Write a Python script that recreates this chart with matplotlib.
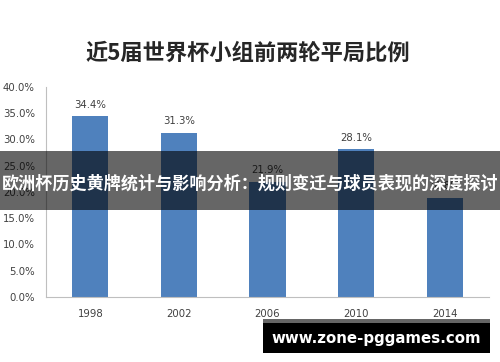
import matplotlib.pyplot as plt
from matplotlib.patches import Rectangle

plt.rcParams['font.family'] = ['Noto Sans CJK SC', 'DejaVu Sans']

years = ['1998', '2002', '2006', '2010', '2014']
draw_rate = [34.4, 31.3, 21.9, 28.1, 18.8]
yticks = [0, 5, 10, 15, 20, 25, 30, 35, 40]

fig = plt.figure(figsize=(5, 3.62), dpi=100)
ax = fig.add_axes([0.092, 0.1796, 0.886, 0.5801])

x = range(len(years))
ax.bar(x, draw_rate, width=0.41, color='#4F81BD', zorder=2)
for xi, v in zip(x, draw_rate):
    ax.text(xi, v + 1.3, f'{v:.1f}%', ha='center', va='bottom', fontsize=7.3,
            color='#404040', family='DejaVu Sans')

ax.set_xlim(-0.5, 4.5)
ax.set_ylim(0, 40)
ax.set_yticks(yticks)
ax.set_yticklabels([f'{t:.1f}%' for t in yticks], fontsize=7.3, color='#404040',
                   family='DejaVu Sans')
ax.set_xticks(list(x))
ax.set_xticklabels(years, fontsize=7.3, color='#404040', family='DejaVu Sans')
ax.tick_params(length=0)
ax.tick_params(axis='x', pad=9)
ax.tick_params(axis='y', pad=8)
for s in ['top', 'right']:
    ax.spines[s].set_visible(False)
for s in ['left', 'bottom']:
    ax.spines[s].set_color('#BFBFBF')

fig.text(0.496, 0.853, '近5届世界杯小组前两轮平局比例', ha='center', va='center',
         fontsize=16, fontweight='bold', color='#262626')

# overlay banner
fig.patches.append(Rectangle((0, 1 - 210 / 362), 1, 59 / 362, transform=fig.transFigure,
                             facecolor='black', alpha=0.6, zorder=5))
fig.text(0.5, 1 - 184 / 362, '欧洲杯历史黄牌统计与影响分析：规则变迁与球员表现的深度探讨',
         ha='center', va='center', fontsize=12.3, fontweight='bold', color='white', zorder=6)

# watermark
fig.patches.append(Rectangle((263 / 500, 1 - 353 / 362), 227 / 500, 34 / 362,
                             transform=fig.transFigure, facecolor='black', zorder=5))
fig.patches.append(Rectangle((263 / 500, 1 - 323 / 362), 227 / 500, 4 / 362,
                             transform=fig.transFigure, facecolor='#666666', zorder=6))
fig.text(376 / 500, 1 - 338 / 362, 'www.zone-pggames.com', ha='center', va='center',
         fontsize=10.8, fontweight='bold', color='white', zorder=7, family='DejaVu Sans')

fig.savefig('out.png', dpi=100)
